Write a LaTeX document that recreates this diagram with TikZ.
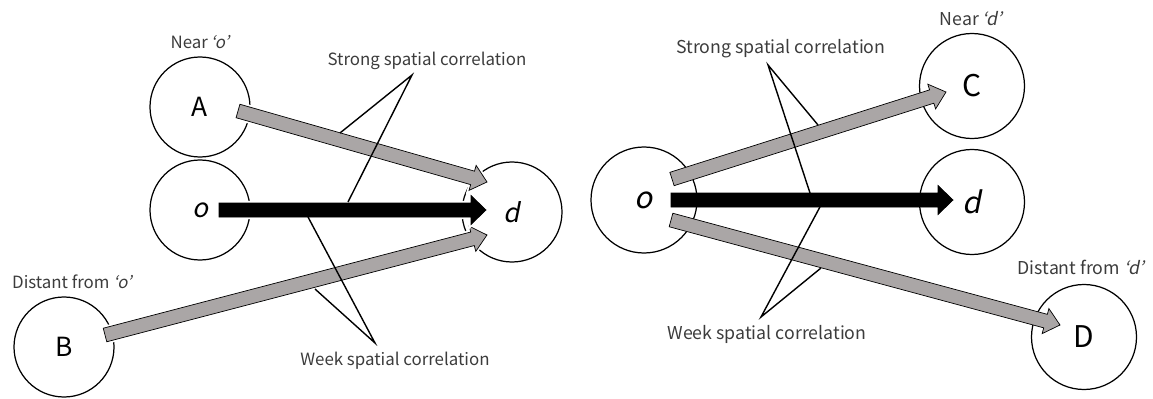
\documentclass[tikz,border=0pt]{standalone}
\usepackage{fontspec}
\setmainfont{Noto Sans CJK JP}
\newfontfamily\slfont[FakeSlant=0.2]{Noto Sans CJK JP}
\usetikzlibrary{calc}
\definecolor{arrgray}{RGB}{170,166,166}
\definecolor{txtgray}{RGB}{60,60,60}
\tikzset{
  zone/.style={circle, draw, line width=0.7pt, minimum size=2cm, inner sep=0pt,
    font=\fontsize{15}{15}\selectfont},
  bigzone/.style={zone, minimum size=2.1cm, font=\fontsize{17}{17}\selectfont},
  note/.style={text=txtgray, inner sep=0pt, font=\fontsize{9.6}{10}\selectfont},
  bignote/.style={note, font=\fontsize{10.1}{11}\selectfont},
  grayarr/.style={fill=arrgray, draw=black, line width=0.4pt},
  blackarr/.style={fill=black, draw=black, line width=0.4pt},
  halo/.style={preaction={draw=white, fill=white, line width=2.4pt}},
  corr/.style={draw, line width=0.8pt, line join=miter}
}
% block arrow: style, head half-width, start, tip
\newcommand{\blockarrow}[4]{%
  \path ($(#4)!0.3cm!(#3)$) coordinate (hb);
  \filldraw[#1] ($(#3)!0.14cm!90:(#4)$) -- ($(hb)!0.14cm!90:(#4)$)
    -- ($(hb)!#2!90:(#4)$) -- (#4) -- ($(hb)!#2!-90:(#4)$)
    -- ($(hb)!0.14cm!-90:(#4)$) -- ($(#3)!0.14cm!-90:(#4)$) -- cycle;}
\begin{document}
\begin{tikzpicture}
  \useasboundingbox (0,0) rectangle (23.06,7.96);
  % left: neighbours of the origin
  \node[zone] (A) at (4.00,5.82) {A};
  \node[zone] (oL) at (4.00,3.76) {\slfont o};
  \node[zone] (dL) at (10.24,3.72) {\slfont d};
  \node[zone] (B) at (1.28,1.02) {B};
  \node[note] (nearo) at (4.00,7.12) {Near\,{\slfont ‘o’}};
  \node[note] (faro) at (1.44,2.32) {Distant from {\slfont ‘o’}};
  \node[note] (strongL) at (8.54,6.74) {Strong spatial correlation};
  \node[note] (weekL) at (7.90,0.74) {Week spatial correlation};
  \coordinate (a0) at ($(A)+(0.76,-0.08)$);
  \coordinate (a1) at ($(dL)+(-0.50,0.60)$);
  \coordinate (o0) at ($(oL)+(0.38,0)$);
  \coordinate (o1) at ($(dL)+(-0.52,0.04)$);
  \coordinate (b0) at ($(B)+(0.82,0.24)$);
  \coordinate (b1) at ($(dL)+(-0.50,-0.46)$);
  \blockarrow{grayarr,halo}{0.26cm}{a0}{a1}
  \blockarrow{grayarr,halo}{0.26cm}{b0}{b1}
  \blockarrow{blackarr,halo}{0.29cm}{o0}{o1}
  \coordinate (sL) at (8.24,6.46);
  \coordinate (wL) at (7.50,1.10);
  \draw[corr] (6.80,5.30) -- (sL) -- (6.96,3.92);
  \draw[corr] (6.16,3.62) -- (wL) -- (6.30,2.18);
  % right: neighbours of the destination
  \node[bigzone, minimum width=2.02cm, minimum height=2.12cm] (oR) at (12.88,3.96) {\slfont o};
  \node[bigzone] (C) at (19.44,6.24) {C};
  \node[bigzone] (dR) at (19.44,3.92) {\slfont d};
  \node[bigzone] (D) at (21.68,1.22) {D};
  \node[bignote] (neard) at (19.42,7.58) {Near\,{\slfont ‘d’}};
  \node[bignote] (fard) at (21.62,2.62) {Distant from {\slfont ‘d’}};
  \node[bignote] (strongR) at (15.62,6.98) {Strong spatial correlation};
  \node[bignote] (weekR) at (15.34,1.28) {Week spatial correlation};
  \coordinate (c0) at ($(oR)+(0.56,0.42)$);
  \coordinate (c1) at ($(C)+(-0.52,-0.12)$);
  \coordinate (r0) at ($(oR)+(0.54,0)$);
  \coordinate (r1) at ($(dR)+(-0.38,0.04)$);
  \coordinate (e0) at ($(oR)+(0.54,-0.40)$);
  \coordinate (e1) at ($(D)+(-0.48,0.24)$);
  \blockarrow{grayarr}{0.26cm}{c0}{c1}
  \blockarrow{grayarr}{0.26cm}{e0}{e1}
  \blockarrow{blackarr}{0.29cm}{r0}{r1}
  \coordinate (sR) at (15.36,6.66);
  \coordinate (wR) at (15.22,1.62);
  \draw[corr] (16.36,5.46) -- (sR) -- (16.20,4.10);
  \draw[corr] (16.42,3.86) -- (wR) -- (16.42,2.60);
\end{tikzpicture}
\end{document}
